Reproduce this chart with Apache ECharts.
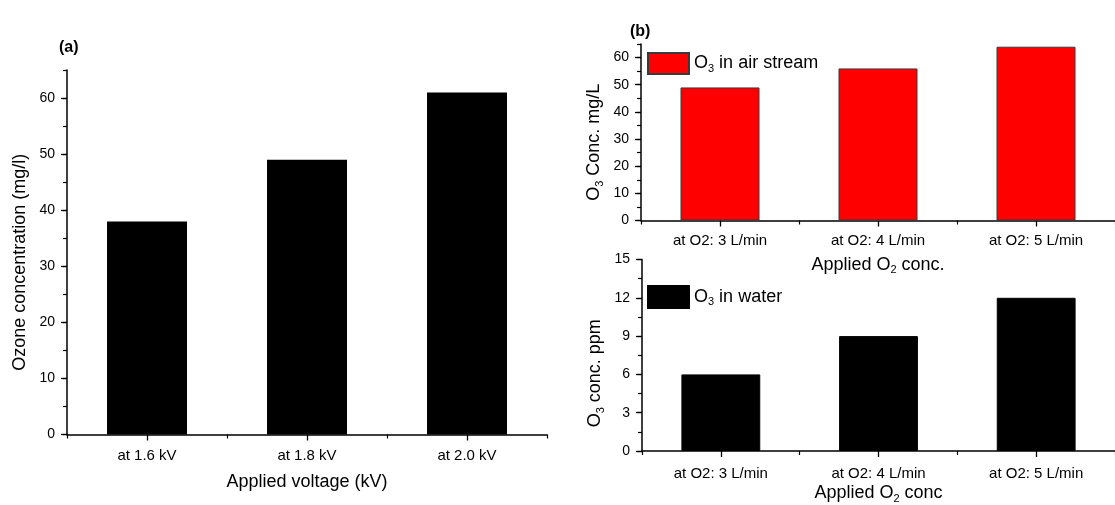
<!DOCTYPE html>
<html>
<head>
<meta charset="utf-8">
<script src="https://cdn.jsdelivr.net/npm/echarts@6/dist/echarts.min.js"></script>
<style>
  html, body { margin: 0; padding: 0; background: #fff; }
  #chart { width: 1115px; height: 505px; }
</style>
</head>
<body>
<div id="chart"></div>
<script>
// Panel (a): ozone concentration vs applied voltage
const voltageCategories = ['at 1.6 kV', 'at 1.8 kV', 'at 2.0 kV'];
const ozoneByVoltage = [38, 49, 61];
const ozoneTicks = [0, 10, 20, 30, 40, 50, 60];

// Panel (b): ozone vs applied O2 flow
const flowCategories = ['at O2: 3 L/min', 'at O2: 4 L/min', 'at O2: 5 L/min'];
const o3AirStream = [49, 56, 64];
const o3Water = [6, 9, 12];
const airTicks = [0, 10, 20, 30, 40, 50, 60];
const waterTicks = [0, 3, 6, 9, 12, 15];

const FONT = "'Liberation Sans', Arial, sans-serif";
const INK = '#000';

// Rich-text styles used for subscripts (O₃, O₂)
const richText = {
  n: { fontSize: 18, fontFamily: FONT, color: INK },
  s: { fontSize: 11, fontFamily: FONT, color: INK, padding: [10, 0, 0, 0] }
};

// Main value axis: labels and long ticks at the given values
function valueAxis(gridIndex, max, ticks, name, nameGap, shift) {
  return {
    type: 'value', gridIndex, min: 0, max, position: 'left',
    name, nameLocation: 'middle', nameGap, nameRotate: 90,
    nameTextStyle: { fontFamily: FONT, fontSize: 18, color: INK, rich: richText, padding: [0, shift, 0, 0] },
    axisLine: { show: true, lineStyle: { color: INK, width: 1.5 } },
    axisTick: { show: true, customValues: ticks, length: 6, lineStyle: { color: INK, width: 1.3 } },
    splitLine: { show: false },
    axisLabel: { customValues: ticks, fontFamily: FONT, fontSize: 14, color: INK, margin: 12 }
  };
}

// Secondary value axis: short minor ticks only
function minorAxis(gridIndex, max, interval) {
  return {
    type: 'value', gridIndex, min: 0, max, interval, position: 'left',
    axisLine: { show: false },
    axisTick: { show: true, length: 4, lineStyle: { color: INK, width: 1.2 } },
    axisLabel: { show: false },
    splitLine: { show: false }
  };
}

function categoryAxis(gridIndex, data, name, nameGap, labelMargin) {
  return {
    type: 'category', gridIndex, data, position: 'bottom',
    name, nameLocation: 'middle', nameGap,
    nameTextStyle: { fontFamily: FONT, fontSize: 18, color: INK, rich: richText },
    axisLine: { show: true, lineStyle: { color: INK, width: 1.5 } },
    axisTick: { show: true, alignWithLabel: true, length: 6, lineStyle: { color: INK, width: 1.3 } },
    axisLabel: { fontFamily: FONT, fontSize: 15, color: INK, margin: labelMargin }
  };
}

// Secondary category axis: short ticks on the category boundaries only
function boundaryAxis(gridIndex, data) {
  return {
    type: 'category', gridIndex, data, position: 'bottom',
    axisLine: { show: false },
    axisTick: { show: true, alignWithLabel: false, length: 4, lineStyle: { color: INK, width: 1.2 } },
    axisLabel: { show: false },
    splitLine: { show: false }
  };
}

const legendText = {
  'O3 in air stream': '{n|O}{s|3}{n| in air stream}',
  'O3 in water': '{n|O}{s|3}{n| in water}'
};

const option = {
  backgroundColor: '#fff',
  animation: false,
  textStyle: { fontFamily: FONT },
  title: [
    { text: '(a)', left: 54, top: 35, textStyle: { fontFamily: FONT, fontSize: 16, fontWeight: 'bold', color: INK } },
    { text: '(b)', left: 625, top: 19, textStyle: { fontFamily: FONT, fontSize: 16, fontWeight: 'bold', color: INK } }
  ],
  grid: [
    { left: 67, top: 70, width: 480, height: 364.5 },
    { left: 641, top: 44, width: 478, height: 176.5 },
    { left: 642, top: 259.5, width: 484, height: 193 }
  ],
  legend: [
    {
      data: ['O3 in air stream'], left: 647, top: 52, padding: 0,
      itemWidth: 41, itemHeight: 21, icon: 'rect',
      formatter: n => legendText[n],
      textStyle: { rich: richText }
    },
    {
      data: ['O3 in water'], left: 647, top: 285, padding: 0,
      itemWidth: 41, itemHeight: 22, icon: 'rect',
      formatter: n => legendText[n],
      textStyle: { rich: richText }
    }
  ],
  xAxis: [
    categoryAxis(0, voltageCategories, 'Applied voltage (kV)', 39, 14),
    categoryAxis(1, flowCategories, '{n|Applied O}{s|2}{n| conc.}', 34, 13),
    categoryAxis(2, flowCategories, '{n|Applied O}{s|2}{n| conc}', 32, 15),
    boundaryAxis(0, voltageCategories),
    boundaryAxis(1, flowCategories),
    boundaryAxis(2, flowCategories)
  ],
  yAxis: [
    valueAxis(0, 65, ozoneTicks, 'Ozone concentration (mg/l)', 38, 20),
    valueAxis(1, 65, airTicks, '{n|O}{s|3}{n| Conc. mg/L}', 36, 20),
    valueAxis(2, 15, waterTicks, '{n|O}{s|3}{n| conc. ppm}', 36, 36),
    minorAxis(0, 65, 5),
    minorAxis(1, 65, 5),
    minorAxis(2, 15, 1.5)
  ],
  series: [
    {
      type: 'bar', name: 'Ozone', xAxisIndex: 0, yAxisIndex: 0,
      data: ozoneByVoltage, barWidth: '50%',
      itemStyle: { color: '#000' }
    },
    {
      type: 'bar', name: 'O3 in air stream', xAxisIndex: 1, yAxisIndex: 1,
      data: o3AirStream, barWidth: '50%',
      itemStyle: { color: '#ff0000', borderColor: '#3a3a3a', borderWidth: 1 }
    },
    {
      type: 'bar', name: 'O3 in water', xAxisIndex: 2, yAxisIndex: 2,
      data: o3Water, barWidth: '50%',
      itemStyle: { color: '#000', borderColor: '#000', borderWidth: 1 }
    }
  ]
};

const chart = echarts.init(document.getElementById('chart'), null, { renderer: 'canvas' });
chart.setOption(option);
</script>
</body>
</html>
